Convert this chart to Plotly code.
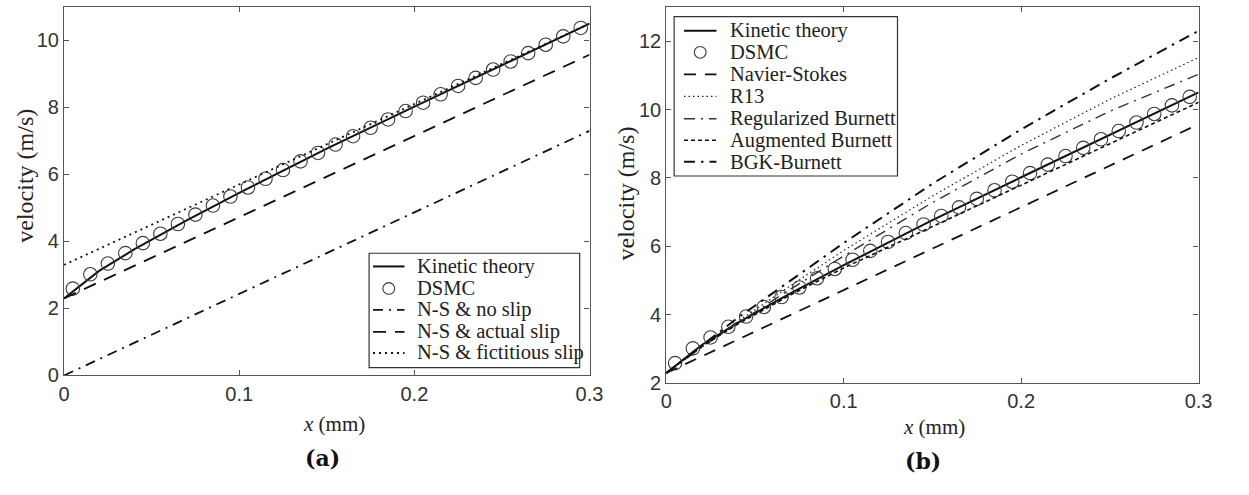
import plotly.graph_objects as go

# ---------------- data ----------------
dsmc_x = [0.005, 0.015, 0.025, 0.035, 0.045, 0.055, 0.065, 0.075, 0.085, 0.095,
          0.105, 0.115, 0.125, 0.135, 0.145, 0.155, 0.165, 0.175, 0.185, 0.195,
          0.205, 0.215, 0.225, 0.235, 0.245, 0.255, 0.265, 0.275, 0.285, 0.295]
dsmc_v = [2.59, 3.02, 3.34, 3.65, 3.95, 4.23, 4.52, 4.80, 5.07, 5.34,
          5.61, 5.87, 6.13, 6.39, 6.64, 6.89, 7.14, 7.39, 7.64, 7.89,
          8.14, 8.39, 8.64, 8.88, 9.13, 9.37, 9.62, 9.87, 10.12, 10.37]

curve_x = [0, 0.02, 0.04, 0.07, 0.1, 0.15, 0.2, 0.25, 0.3]
kinetic_v = [2.30, 3.12, 3.76, 4.63, 5.45, 6.77, 8.02, 9.27, 10.50]

# panel (a) straight lines
line_x = [0, 0.3]
ns_noslip_v = [0.0, 7.3]
ns_actual_v = [2.3, 9.57]
ns_fict_v = [3.3, 10.5]

# panel (b)
ns_b_v = [2.3, 9.57]
r13_v = [2.3, 3.05, 3.80, 4.85, 5.88, 7.47, 8.95, 10.30, 11.52]
regb_v = [2.3, 3.05, 3.75, 4.75, 5.72, 7.28, 8.70, 9.95, 11.03]
augb_v = [2.3, 3.08, 3.72, 4.58, 5.37, 6.58, 7.80, 9.01, 10.21]
bgk_v = [2.3, 3.10, 3.90, 5.00, 6.10, 7.83, 9.42, 10.90, 12.30]

x_ticks = [0, 0.1, 0.2, 0.3]
x_ticklabels = ["0", "0.1", "0.2", "0.3"]
ya_ticks = [0, 2, 4, 6, 8, 10]
yb_ticks = [2, 4, 6, 8, 10, 12]

legend_a = ["Kinetic theory", "DSMC", "N-S &amp; no slip", "N-S &amp; actual slip",
            "N-S &amp; fictitious slip"]
legend_b = ["Kinetic theory", "DSMC", "Navier-Stokes", "R13", "Regularized Burnett",
            "Augmented Burnett", "BGK-Burnett"]

# ---------------- styles ----------------
S_KIN = dict(color="#111", width=2, dash="solid")
S_NOSLIP = dict(color="#111", width=1.8, dash="10px,6px,2px,6px")
S_ACT = dict(color="#111", width=1.8, dash="13px,9px")
S_FICT = dict(color="#111", width=1.8, dash="2px,4px")
S_NSB = dict(color="#111", width=1.8, dash="12px,9px")
S_R13 = dict(color="#222", width=1.2, dash="1.5px,3px")
S_REG = dict(color="#333", width=1.4, dash="11px,6px,2px,6px")
S_AUG = dict(color="#111", width=1.6, dash="4px,3px")
S_BGK = dict(color="#111", width=2, dash="11px,6px,2.5px,6px")
CIRC = dict(symbol="circle-open", size=13.5, color="#3a3a3a", line=dict(width=1.1, color="#3a3a3a"))

W, H = 1249, 495
fig = go.Figure()

def line(x, y, name, style, xa, ya):
    fig.add_trace(go.Scatter(x=x, y=y, name=name, mode="lines", line=style,
                             xaxis=xa, yaxis=ya, showlegend=False))

def dots(x, y, name, xa, ya):
    fig.add_trace(go.Scatter(x=x, y=y, name=name, mode="markers", marker=CIRC,
                             xaxis=xa, yaxis=ya, showlegend=False))

# panel a
line(curve_x, kinetic_v, legend_a[0], S_KIN, "x", "y")
dots(dsmc_x, dsmc_v, legend_a[1], "x", "y")
line(line_x, ns_noslip_v, legend_a[2], S_NOSLIP, "x", "y")
line(line_x, ns_actual_v, legend_a[3], S_ACT, "x", "y")
line(line_x, ns_fict_v, legend_a[4], S_FICT, "x", "y")

# panel b
line(curve_x, kinetic_v, legend_b[0], S_KIN, "x2", "y2")
dots(dsmc_x, dsmc_v, legend_b[1], "x2", "y2")
line(line_x, ns_b_v, legend_b[2], S_NSB, "x2", "y2")
line(curve_x, r13_v, legend_b[3], S_R13, "x2", "y2")
line(curve_x, regb_v, legend_b[4], S_REG, "x2", "y2")
line(curve_x, augb_v, legend_b[5], S_AUG, "x2", "y2")
line(curve_x, bgk_v, legend_b[6], S_BGK, "x2", "y2")

def px(v): return v / W
def py(v): return 1 - v / H

axis_common = dict(showline=True, linecolor="#555", linewidth=1.2, mirror="ticks",
                   ticks="inside", ticklen=5, tickcolor="#555", showgrid=False, zeroline=False,
                   tickfont=dict(family="Liberation Sans, Arial", size=20, color="#333"))

fig.update_layout(
    width=W, height=H, margin=dict(l=0, r=0, t=0, b=0),
    paper_bgcolor="white", plot_bgcolor="white", showlegend=False,
    xaxis=dict(domain=[px(59), px(593)], range=[0, 0.3], tickvals=x_ticks, ticktext=x_ticklabels,
               anchor="y", **axis_common),
    yaxis=dict(domain=[py(384), py(7)], range=[0, 11], tickvals=ya_ticks, anchor="x", **axis_common),
    xaxis2=dict(domain=[px(671), px(1212)], range=[0, 0.3], tickvals=x_ticks, ticktext=x_ticklabels,
                anchor="y2", **axis_common),
    yaxis2=dict(domain=[py(392), py(7)], range=[2, 13], tickvals=yb_ticks, anchor="x2", **axis_common),
)

# ---------------- manual legends (paper pixel layout) ----------------
shapes = []
ann = []
leg_font = dict(family="Liberation Serif, Times New Roman", size=20.5, color="#222")

def legend_box(x0, y0, x1, y1, rows, labels, styles, sample_x0, sample_x1, text_x):
    shapes.append(dict(type="rect", xref="paper", yref="paper",
                       x0=px(x0), x1=px(x1), y0=py(y1), y1=py(y0),
                       line=dict(color="#333", width=1.2), fillcolor="white", layer="above"))
    for r, lab, st in zip(rows, labels, styles):
        if st == "marker":
            cx = (sample_x0 + sample_x1) / 2
            shapes.append(dict(type="circle", xref="paper", yref="paper",
                               x0=px(cx - 6), x1=px(cx + 6), y0=py(r + 6), y1=py(r - 6),
                               line=dict(color="#3a3a3a", width=1.1), layer="above"))
        else:
            shapes.append(dict(type="line", xref="paper", yref="paper",
                               x0=px(sample_x0), x1=px(sample_x1), y0=py(r), y1=py(r),
                               line=st, layer="above"))
        ann.append(dict(x=px(text_x), y=py(r), text=lab, xanchor="left", yanchor="middle",
                        font=leg_font))

legend_box(369, 259, 583, 376, [272.5, 295, 317, 339.5, 361],
           legend_a, [S_KIN, "marker", S_NOSLIP, S_ACT, S_FICT], 373, 405, 416)
legend_box(679, 17, 906, 180, [31.5, 53.5, 76, 98.5, 121.5, 143.5, 165.5],
           legend_b, [S_KIN, "marker", S_NSB, S_R13, S_REG, S_AUG, S_BGK], 689, 722, 734)

serif = dict(family="Liberation Serif, Times New Roman", size=21, color="#222")
ylab = dict(family="Liberation Serif, Times New Roman", size=24, color="#222")
ann += [
    dict(x=px(333), y=py(434), text="<i>x</i> (mm)", font=serif),
    dict(x=px(943), y=py(437), text="<i>x</i> (mm)", font=serif),
    dict(x=px(19), y=py(180), text="velocity (m/s)", textangle=-90, font=ylab),
    dict(x=px(630), y=py(198), text="velocity (m/s)", textangle=-90, font=ylab),
    dict(x=px(322), y=py(468), text="<b>(a)</b>", font=dict(family="DejaVu Serif", size=22, color="#111")),
    dict(x=px(932), y=py(471), text="<b>(b)</b>", font=dict(family="DejaVu Serif", size=22, color="#111")),
]
for a in ann:
    a.update(xref="paper", yref="paper", showarrow=False)
    a.setdefault("xanchor", "center")
    a.setdefault("yanchor", "middle")
fig.update_layout(annotations=ann, shapes=shapes)

fig.write_html("out.html")
